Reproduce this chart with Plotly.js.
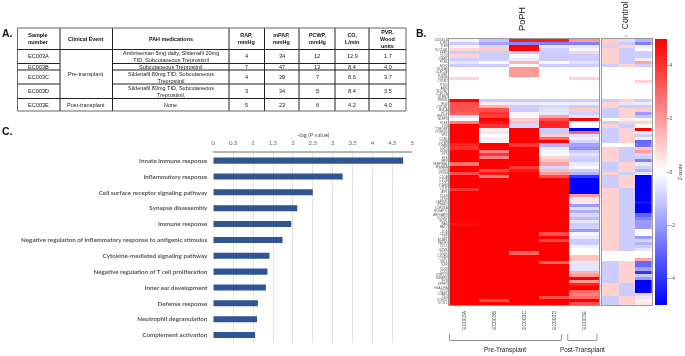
<!DOCTYPE html>
<html>
<head>
<meta charset="utf-8">
<script src="https://cdn.plot.ly/plotly-3.0.1.min.js"></script>
<style>
html,body{margin:0;padding:0;background:#fff}
#g{width:685px;height:356px;filter:blur(0.45px)}
</style>
</head>
<body>
<div id="g"></div>
<script>
/* Panel A table */
const tableHeaders = ["Sample<br>number","Clinical Event","PAH medications","RAP,<br>mmHg","mPAP,<br>mmHg","PCWP,<br>mmHg","CO,<br>L/min","PVR,<br>Wood<br>units"];
const samples = ["EC003A","EC003B","EC003C","EC003D","EC003E"];
const clinicalEvents = ["Pre-transplant","Post-transplant"];
const medications = ["Ambrisentan 5mg daily, Sildenafil 20mg<br>TID, Subcutaneous Treprostinil","Subcutaneous Treprostinil","Sildenafil 80mg TID, Subcutaneous<br>Treprostinil","Sildenafil 80mg TID, Subcutaneous<br>Treprostinil,","None"];
const rap = ["4","7","4","3","5"];
const mpap = ["34","47","39","34","23"];
const pcwp = ["12","13","7","5","6"];
const co = ["12.9","8.4","8.6","8.4","4.2"];
const pvr = ["1.7","4.0","3.7","3.5","4.0"];

/* Panel C bars */
const terms = ["Innate immune response","Inflammatory response","Cell surface receptor signaling pathway","Synapse disassembly","Immune response","Negative regulation of inflammatory response to antigenic stimulus","Cytokine-mediated signaling pathway","Negative regulation of T cell proliferation","Inner ear development","Defense response","Neutrophil degranulation","Complement activation"];
const logP = [4.77,3.25,2.5,2.11,1.96,1.74,1.41,1.36,1.32,1.12,1.10,1.05];

/* Panel B heatmaps */
const popHSamples = ["EC003A","EC003B","EC003C","EC003D","EC003E"];
const controlSamples = ["Ctrl1","Ctrl2","Ctrl3"];
const genes = ["CD300LB","IL1R2","TLR8","SLC11A1","FPR2","CD14","C5AR1","FCN1","NCF2","S100A9","CLEC4E","IL18R1","CSF3R","CXCR2","PTX3","AIM2","SLC7A7","CLEC7A","LILRB2","TREM1","IFI16","CYP1B1","MNDA","HCK","HMOX1","NLRP3","PLEK","LYN","TYROBP","FCER1G","SPI1","CCR1","CYBB","ITGAM","LCP2","CD86","SYK","BTK","IRF8","SERPINA1","MS4A6A","CD163","VSIG4","C1QA","C1QB","C1QC","TGFBI","LST1","AIF1","CD68","CTSS","LAPTM5","PTPRC","CORO1A","NCKAP1L","ARHGAP9","DOCK2","IKZF1","WAS","RAC2","LCK","CD3E","CD2","ACAP1","SASH3","CCL5","GZMK","CD52","CXCR4","CCR7","SELL","IL7R","CD48","CD53","P2RY13","TNFAIP3","FYB","DPEP2","HLA-DRA","CD74","C3AR1","CD4","CORO7","COTL1"];
const zPoPH = [
[0.3,-1.2,4.5,4.5,2],[-1,-1.8,-2.4,-2.5,-2.5],[0.3,-0.8,5,-0.5,-0.5],[0.8,1,5,-0.9,-0.2],[-1,-1,-1,-1,0.8],[0.8,-1,-0.1,-1,-1],[-1,-1,-0.4,-1,-1],[-0.5,0,1.5,-0.1,-0.6],[-1,-1,0,-1,-1],[0,0,2,0,0],
[0,0,2,0,0],[0,0,2,0,0],[0.8,0,0,0,0.8],[0,0,0,0,0],[0,0,0,0,0],[0,0,0,0,0],[0,0,0,0,0],[0,0,0,0,0],[0,0,0,0,0],[5,-1,-1,-1,-1],
[3.5,0.4,-0.4,-0.3,-0.3],[3.4,1.5,-1,-0.8,-1],[3.4,3.5,-1,-0.6,1],[3.2,4,0.2,-0.5,-0.9],[-0.6,3.8,-0.1,1.8,-0.5],[0,5,1,3.5,5],[2.5,4.6,1.2,4.3,-0.1],[5,4,-0.8,4.3,0],[5,0.3,5,-1,-5],[5,-0.5,5,-1,3],
[5,0,5,1,-0.6],[5,-0.3,5,3,-0.3],[5,0.3,5,5,-0.8],[4.3,5,4,-1.5,-1.8],[4,5,5,-0.4,-2.2],[5,2.5,5,-0.2,-1],[5,4,5,0,-0.6],[5,2.5,5,0.8,-0.9],[5,5,5,1.2,-1],[2.8,5,5,1.8,-0.4],
[5,5,3.8,-0.8,-0.1],[5,3.5,4.6,1.4,-1],[3.5,4.6,5,2,-1.5],[5,2.5,5,3.5,-4],[5,5,5,5,-5],[5,5,5,5,-5],[5,5,5,5,-5],[4,5,5,5,-5],[5,5,5,5,-5],[5,5,5,5,2],
[5,5,5,5,0.5],[5,5,5,5,0.5],[5,5,5,5,-2],[5,5,5,5,-0.6],[5,5,5,5,-1.6],[5,5,5,5,-0.8],[5,5,5,5,-1.3],[5,5,5,5,-0.5],[4.7,5,5,5,-1],[5,5,5,5,-0.9],
[5,5,5,5,-2],[5,5,5,3.5,-0.2],[5,5,5,5,-0.4],[5,5,5,3.5,-1],[5,5,5,5,-1],[5,5,5,5,-0.3],[5,5,5,5,0],[5,5,3,5,0],[5,5,5,5,1.2],[5,5,5,5,1.2],
[5,5,5,3,-0.5],[5,5,5,5,-0.5],[5,5,5,5,-0.5],[5,5,5,5,1.5],[5,5,5,5,2],[5,5,5,5,5],[5,5,5,5,2],[5,5,5,5,4.4],[5,5,5,5,5],[5,5,5,5,3],
[5,5,5,5,2.5],[5,5,5,3.5,3],[5,3.5,5,5,5],[5,5,5,5,3.5]
];
const zControl = [
[1,-0.7,-1.5],[1,-1,-2.5],[-0.9,0.9,-0.3],[0.9,-1,0],[0.9,-1,-1],[0.9,-1,-1],[0.9,-1,-0.3],[0.9,-1,1.8],[-1,0.9,-1],[0,0,0],
[0,0,0],[0,0,0],[0,0,0],[0,0,0.9],[0,0,0],[0,0,0],[0,0,0],[0,0,0],[0,0,0],[-1,0.9,-1],
[0.9,-0.5,-0.4],[0.9,-1,-1],[-1,0.9,1],[-1,0.9,-2],[-1,0.9,-1.2],[0,0.3,0.2],[-1,0.9,0.9],[0.9,-1,0],[-1,0.9,5],[-1,0.9,-0.2],
[-1,0.9,-1],[-1,0.9,-0.3],[-1,0.9,-3],[0,0,-2.8],[0.9,-1,1.2],[0.9,-1,2],[0.9,-1,-0.8],[0.9,-1,-1],[0.9,-1,-2.5],[-1,0.9,-0.4],
[-1,0.9,-0.9],[-1,0.9,-1.5],[0.9,-1,-0.5],[-1,0.9,-5],[-1,0.9,-5],[-1,0.9,-5],[-1,0.9,-5],[0.9,-1,-5],[0.9,-1,-5],[0.9,-1,-5],
[0.9,-1,-5],[0.9,-1,-4.6],[0.9,-1,-5],[0.9,-1,-5],[0.9,-1,-5],[0.9,-1,-3],[0.9,-1,-2.5],[0.9,-1,-2],[0.9,-1,-2],[0.9,-1,-2],
[0.9,-1,-0.1],[0.9,-1,0],[0.9,-1,-2],[0.9,-1,-0.8],[0.9,-1,-1.5],[0.9,-1,-1],[0.9,-1,-0.5],[0,0,0],[0,0,0],[0,0,1.8],
[-1,0.9,-3],[-1,0.9,-3],[-1,0.9,-1.8],[-1,0.9,-4],[-1,0.9,-1],[-1,0.9,-2],[-1,0.9,-5],[0.9,-1,-5],[0.9,-1,-5],[0.9,-1,-5],
[0.9,-1,1],[-1,0.9,-0.5],[-1,0.9,0.3],[-1,0.9,0.5]
];

const W = 685, H = 356;
const fx = p => p / W, fy = p => 1 - p / H;
const arial = '"Liberation Sans", Arial, sans-serif';
const annos = [], shapes = [];
function txt(x, y, text, size, color, bold, extra) {
  annos.push(Object.assign({xref:'paper', yref:'paper', x:fx(x), y:fy(y), text: bold ? text.split('<br>').map(t=>'<b>'+t+'</b>').join('<br>') : text,
    showarrow:false, xanchor:'center', yanchor:'middle', align:'center', borderpad:0,
    font:{family:arial, size:size, color:color}}, extra||{}));
}
function line(x0, y0, x1, y1, color, width) {
  shapes.push({type:'line', xref:'paper', yref:'paper', x0:fx(x0), y0:fy(y0), x1:fx(x1), y1:fy(y1), line:{color:color, width:width}});
}

/* panel letters */
txt(7, 33, 'A.', 10.5, '#111', true);
txt(421, 33, 'B.', 10.5, '#111', true);
txt(7, 131, 'C.', 10.5, '#111', true);

/* table */
const colX = [17.5,60,112.5,229,264.5,299,335,369,406];
const rowY = [28,49.5,63.5,70,84,98.5,111];
const colC = colX.slice(0,-1).map((v,i)=>(v+colX[i+1])/2);
const rowC = rowY.slice(0,-1).map((v,i)=>(v+rowY[i+1])/2);
colX.forEach((x,i)=>{
  const outer = i===0||i===colX.length-1;
  line(x,28,x,111, outer?'#666':'#222', 1);
});
rowY.forEach((y,i)=>{
  const outer = i===0||i===rowY.length-1;
  if (outer) line(17.5,y,406,y,'#666',1);
  else {
    if (i===1) line(17.5,y,406,y,'#222',1);
    else if (i===5) line(17.5,y,406,y,'#222',1);
    else { line(17.5,y,60,y,'#222',1); line(112.5,y,406,y,'#222',1); }
  }
});
tableHeaders.forEach((h,i)=>txt(colC[i], rowC[0], h, 5.4, '#111', true));
samples.forEach((s,i)=>{
  const y = rowC[i+1];
  txt(colC[0],y,s,5.6,'#222');
  txt(colC[2],y,medications[i],5.5,'#222');
  [rap,mpap,pcwp,co,pvr].forEach((arr,k)=>txt(colC[3+k],y,arr[i],5.6,'#222'));
});
txt(colC[1],(rowY[1]+rowY[5])/2,clinicalEvents[0],5.6,'#222');
txt(colC[1],rowC[5],clinicalEvents[1],5.6,'#222');

/* bar chart axis title */
txt(313, 134.7, '-log (P value)', 5.8, '#555', false, {font:{family:'Lato, sans-serif',size:5.8,color:'#555'}});

/* heatmap labels */
txt(522, 19, 'PoPH', 9.2, '#222', false, {textangle:-90});
txt(625.7, 15.5, 'Control', 8.6, '#222', false, {textangle:-90});
line(624.5,36,627.5,36,'#999',0.8);
/* brackets */
const bc = '#777';
line(449.5,334,449.5,340,bc,0.8); line(449.5,340.5,561.3,340.5,bc,0.8); line(561.3,334,561.3,340,bc,0.8);
line(567.7,334,567.7,340,bc,0.8); line(567.7,340.5,597,340.5,bc,0.8); line(597,334,597,340,bc,0.8);
txt(505, 350, 'Pre-Transplant', 6.4, '#222');
txt(582.7, 350, 'Post-Transplant', 6.4, '#222');

const dx = (a,b)=>[fx(a),fx(b)], dy = (top,bot)=>[fy(bot),fy(top)];
const cs = [[0,'#0000ff'],[0.5,'#ffffff'],[1,'#ff0000']];
const hmTop = 38.5, hmBot = 305;

const traces = [
  {type:'bar', orientation:'h', x:logP, y:terms, xaxis:'x', yaxis:'y', marker:{color:'#2F5597', line:{width:0}}, hoverinfo:'skip'},
  {type:'heatmap', x:popHSamples, y:genes, z:zPoPH, xaxis:'x2', yaxis:'y2', colorscale:cs, zmin:-5, zmax:5, showscale:false, hoverinfo:'skip'},
  {type:'heatmap', x:controlSamples, y:genes, z:zControl, xaxis:'x3', yaxis:'y3', colorscale:cs, zmin:-5, zmax:5, hoverinfo:'skip',
    colorbar:{x:fx(655.3), xanchor:'left', xref:'paper', y:fy(hmBot), yanchor:'bottom', yref:'paper', lenmode:'pixels', len:hmBot-hmTop-0.5,
      thicknessmode:'pixels', thickness:12, outlinewidth:0, borderwidth:0, xpad:0, ypad:0,
      tickvals:[-4,-2,0,2,4], ticktext:['\u22124','\u22122','0','2','4'], ticks:'outside', ticklen:2, tickcolor:'#666', tickwidth:0.6,
      tickfont:{family:arial,size:4.8,color:'#444'},
      title:{text:'Z-score', side:'right', font:{family:arial,size:4.8,color:'#444'}}}}
];

const layout = {
  width:W, height:H, margin:{l:0,r:0,t:0,b:0,pad:0}, paper_bgcolor:'#fff', plot_bgcolor:'#fff', showlegend:false,
  annotations:annos, shapes:shapes, bargap:0.62,
  xaxis:{domain:dx(213.3,412.3), side:'top', anchor:'y', range:[0,5], dtick:0.5, tickformat:'~r', showgrid:true, gridcolor:'#dcdcdc', gridwidth:0.8, zeroline:false,
    showline:true, linecolor:'#b5b5b5', linewidth:1.5, ticks:'outside', ticklen:4, tickcolor:'rgba(0,0,0,0)', tickfont:{family:'Lato, sans-serif',size:6,color:'#666'}, fixedrange:true},
  yaxis:{domain:dy(152.7,343), anchor:'x', autorange:'reversed', type:'category', showgrid:false, zeroline:false, showline:false, ticks:'', ticklabelstandoff:5,
    tickfont:{family:'Lato, sans-serif',size:6.25,color:'#555',weight:700}, fixedrange:true},
  xaxis2:{domain:dx(449.3,599), anchor:'y2', type:'category', showline:true, mirror:true, linecolor:'#999', linewidth:1, ticks:'', ticklen:0, tickangle:-90, ticklabelshift:-2.5, ticklabelstandoff:3,
    tickfont:{family:arial,size:5,color:'#444'}, showgrid:false, zeroline:false, fixedrange:true},
  yaxis2:{domain:dy(hmTop,hmBot), anchor:'x2', type:'category', autorange:'reversed', showline:true, mirror:true, linecolor:'#999', linewidth:1, ticks:'', tickmode:'array', tickvals:genes, ticktext:genes,
    tickfont:{family:arial,size:3,color:'#555'}, showgrid:false, zeroline:false, fixedrange:true},
  xaxis3:{domain:dx(602,651.7), anchor:'y3', type:'category', showline:true, mirror:true, linecolor:'#999', linewidth:1, ticks:'', showticklabels:false, showgrid:false, zeroline:false, fixedrange:true},
  yaxis3:{domain:dy(hmTop,hmBot), anchor:'x3', type:'category', autorange:'reversed', showline:true, mirror:true, linecolor:'#999', linewidth:1, ticks:'', showticklabels:false, showgrid:false, zeroline:false, fixedrange:true}
};
Plotly.newPlot('g', traces, layout, {displayModeBar:false, staticPlot:true});
</script>
</body>
</html>
